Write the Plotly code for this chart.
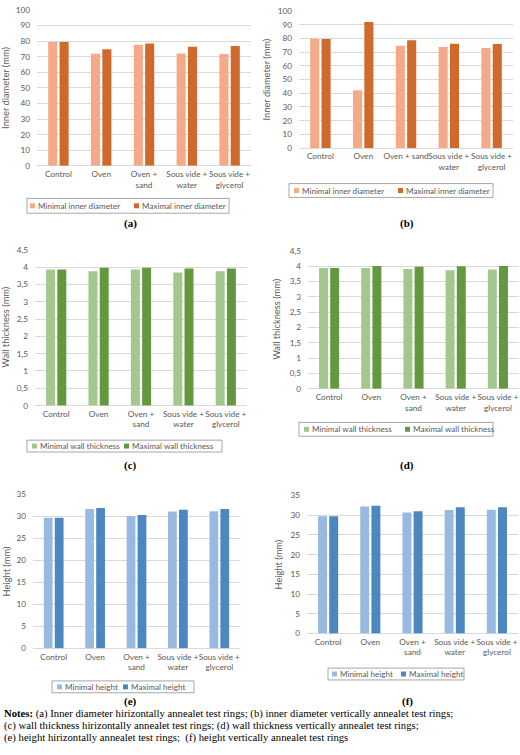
import plotly.graph_objects as go

W, H = 520, 755

categories = ["Control", "Oven", "Oven + sand", "Sous vide + water", "Sous vide + glycerol"]
ticks_wrapped = ["Control", "Oven", "Oven +<br>sand", "Sous vide +<br>water", "Sous vide +<br>glycerol"]
ticks_b = ["Control", "Oven", "Oven + sand", "Sous vide +<br>water", "Sous vide +<br>glycerol"]

inner_min_a = [79.5, 71.9, 77.6, 72.1, 71.7]
inner_max_a = [79.5, 74.7, 78.5, 76.4, 76.8]
inner_min_b = [79.7, 42.1, 74.6, 73.7, 73.0]
inner_max_b = [79.6, 91.9, 78.7, 76.1, 75.8]
wall_min_c = [3.93, 3.88, 3.93, 3.84, 3.88]
wall_max_c = [3.93, 3.98, 3.98, 3.96, 3.96]
wall_min_d = [3.94, 3.94, 3.90, 3.86, 3.89]
wall_max_d = [3.94, 4.00, 3.98, 3.99, 4.00]
height_min_e = [29.7, 31.7, 30.1, 31.1, 31.2]
height_max_e = [29.7, 31.9, 30.3, 31.5, 31.7]
height_min_f = [29.7, 32.2, 30.7, 31.3, 31.4]
height_max_f = [29.7, 32.4, 31.0, 32.0, 32.0]

ORANGE_L, ORANGE_D = "#F4AA88", "#D06A2A"
GREEN_L, GREEN_D = "#A3C78C", "#63983F"
BLUE_L, BLUE_D = "#99BAE0", "#4D87C0"

TICK_FONT = dict(family="Lato", size=8.2, color="#595959")
LEG_FONT = dict(family="Lato", size=8.1, color="#595959")
GRID = "#D9D9D9"


def px_x(v):
    return v / W


def px_y(v):
    return 1 - v / H


panels = [
    dict(key="", mins=inner_min_a, maxs=inner_max_a, cols=(ORANGE_L, ORANGE_D),
         names=("Minimal inner diameter", "Maximal inner diameter"), ymax=100, dtick=10,
         ytitle="Inner diameter (mm)", ticks=ticks_wrapped, x=(37, 251), y=(5, 163), title_x=6,
         legend=(27, 229, 196, 211, 30, 134), label="(a)", label_xy=(130, 221)),
    dict(key="2", mins=inner_min_b, maxs=inner_max_b, cols=(ORANGE_L, ORANGE_D),
         names=("Minimal inner diameter", "Maximal inner diameter"), ymax=100, dtick=10,
         ytitle="Inner diameter (mm)", ticks=ticks_b, x=(299, 513), y=(6, 145), title_x=266,
         legend=(289, 493, 181, 195, 294, 398), label="(b)", label_xy=(407, 221)),
    dict(key="3", mins=wall_min_c, maxs=wall_max_c, cols=(GREEN_L, GREEN_D),
         names=("Minimal wall thickness", "Maximal wall thickness"), ymax=4.5, dtick=0.5,
         ytitle="Wall thickness (mm)", ticks=ticks_wrapped, x=(35, 247), y=(248, 406), title_x=6,
         legend=(27, 222, 441, 453, 32, 124), label="(c)", label_xy=(130, 467)),
    dict(key="4", mins=wall_min_d, maxs=wall_max_d, cols=(GREEN_L, GREEN_D),
         names=("Minimal wall thickness", "Maximal wall thickness"), ymax=4.5, dtick=0.5,
         ytitle="Wall thickness (mm)", ticks=ticks_wrapped, x=(308, 519), y=(249, 389), title_x=277,
         legend=(299, 493, 423, 437, 304, 405), label="(d)", label_xy=(407, 467)),
    dict(key="5", mins=height_min_e, maxs=height_max_e, cols=(BLUE_L, BLUE_D),
         names=("Minimal height", "Maximal height"), ymax=35, dtick=5,
         ytitle="Height (mm)", ticks=ticks_wrapped, x=(33, 240), y=(496, 652), title_x=6,
         legend=(52, 194, 685, 697, 57, 123), label="(e)", label_xy=(130, 706)),
    dict(key="6", mins=height_min_f, maxs=height_max_f, cols=(BLUE_L, BLUE_D),
         names=("Minimal height", "Maximal height"), ymax=35, dtick=5,
         ytitle="Height (mm)", ticks=ticks_wrapped, x=(307, 518), y=(497, 637), title_x=278,
         legend=(328, 464, 672, 684, 332, 401), label="(f)", label_xy=(407, 706)),
]

fig = go.Figure()
shapes = []
annotations = []
layout = {}

for p in panels:
    k = p["key"]
    xa, ya = "x" + k, "y" + k
    for vals, col, name in zip((p["mins"], p["maxs"]), p["cols"], p["names"]):
        fig.add_trace(go.Bar(x=categories, y=vals, name=name, marker=dict(color=col, line=dict(width=0)),
                             xaxis=xa, yaxis=ya, showlegend=False))
    layout["xaxis" + k] = dict(domain=[px_x(p["x"][0]), px_x(p["x"][1])], anchor=ya,
                               showgrid=False, showline=False, zeroline=False, ticks="",
                               tickvals=categories, ticktext=p["ticks"], tickfont=TICK_FONT,
                               ticklabelstandoff=2, fixedrange=True, tickangle=0)
    layout["yaxis" + k] = dict(domain=[px_y(p["y"][1]), px_y(p["y"][0])], anchor=xa,
                               range=[0, p["ymax"]], dtick=p["dtick"], tick0=0,
                               showgrid=True, gridcolor=GRID, gridwidth=1,
                               zeroline=True, zerolinecolor=GRID, zerolinewidth=1,
                               showline=False, ticks="", tickfont=TICK_FONT,
                               ticklabelstandoff=6, fixedrange=True)
    annotations.append(dict(text=p["ytitle"], xref="paper", yref="paper", textangle=-90,
                            x=px_x(p["title_x"]), y=px_y((p["y"][0] + p["y"][1]) / 2),
                            xanchor="center", yanchor="middle", showarrow=False,
                            font=dict(family="Lato", size=9.3, color="#595959")))
    bx0, bx1, by0, by1, i1, i2 = p["legend"]
    shapes.append(dict(type="rect", xref="paper", yref="paper",
                       x0=px_x(bx0), x1=px_x(bx1), y0=px_y(by1), y1=px_y(by0),
                       line=dict(color="#A6A6A6", width=1), fillcolor="white", layer="above"))
    cy = (by0 + by1) / 2
    for ix, col, name in zip((i1, i2), p["cols"], p["names"]):
        shapes.append(dict(type="rect", xref="paper", yref="paper",
                           x0=px_x(ix), x1=px_x(ix + 5), y0=px_y(cy + 2.5), y1=px_y(cy - 2.5),
                           line=dict(width=0), fillcolor=col, layer="above"))
        annotations.append(dict(text=name, xref="paper", yref="paper", x=px_x(ix + 6), y=px_y(cy),
                                xanchor="left", yanchor="middle", showarrow=False, font=LEG_FONT))
    annotations.append(dict(text="<b>" + p["label"] + "</b>", xref="paper", yref="paper",
                            x=px_x(p["label_xy"][0]), y=px_y(p["label_xy"][1]),
                            xanchor="center", yanchor="middle", showarrow=False,
                            font=dict(family="Liberation Serif", size=11, color="black")))

notes = [
    "<b>Notes:</b> (a) Inner diameter hirizontally annealet test rings; (b) inner diameter vertically annealet test rings;",
    "(c) wall thickness hirizontally annealet test rings; (d) wall thickness vertically annealet test rings;",
    "(e) height hirizontally annealet test rings;  (f) height vertically annealet test rings",
]
for i, line in enumerate(notes):
    annotations.append(dict(text=line, xref="paper", yref="paper", x=px_x(2), y=px_y(718 + i * 12.3),
                            xanchor="left", yanchor="middle", showarrow=False,
                            font=dict(family="Liberation Serif", size=10.7, color="black")))

fig.update_layout(
    width=W, height=H, autosize=False,
    margin=dict(l=0, r=0, t=0, b=0),
    paper_bgcolor="white", plot_bgcolor="white",
    barmode="group", bargap=0.47, bargroupgap=0.2,
    separators=", ",
    showlegend=False,
    shapes=shapes, annotations=annotations,
    **layout,
)

fig.write_html("out.html", config={"displayModeBar": False},
               post_script="document.body.style.margin='0';document.body.style.overflow='hidden';")
